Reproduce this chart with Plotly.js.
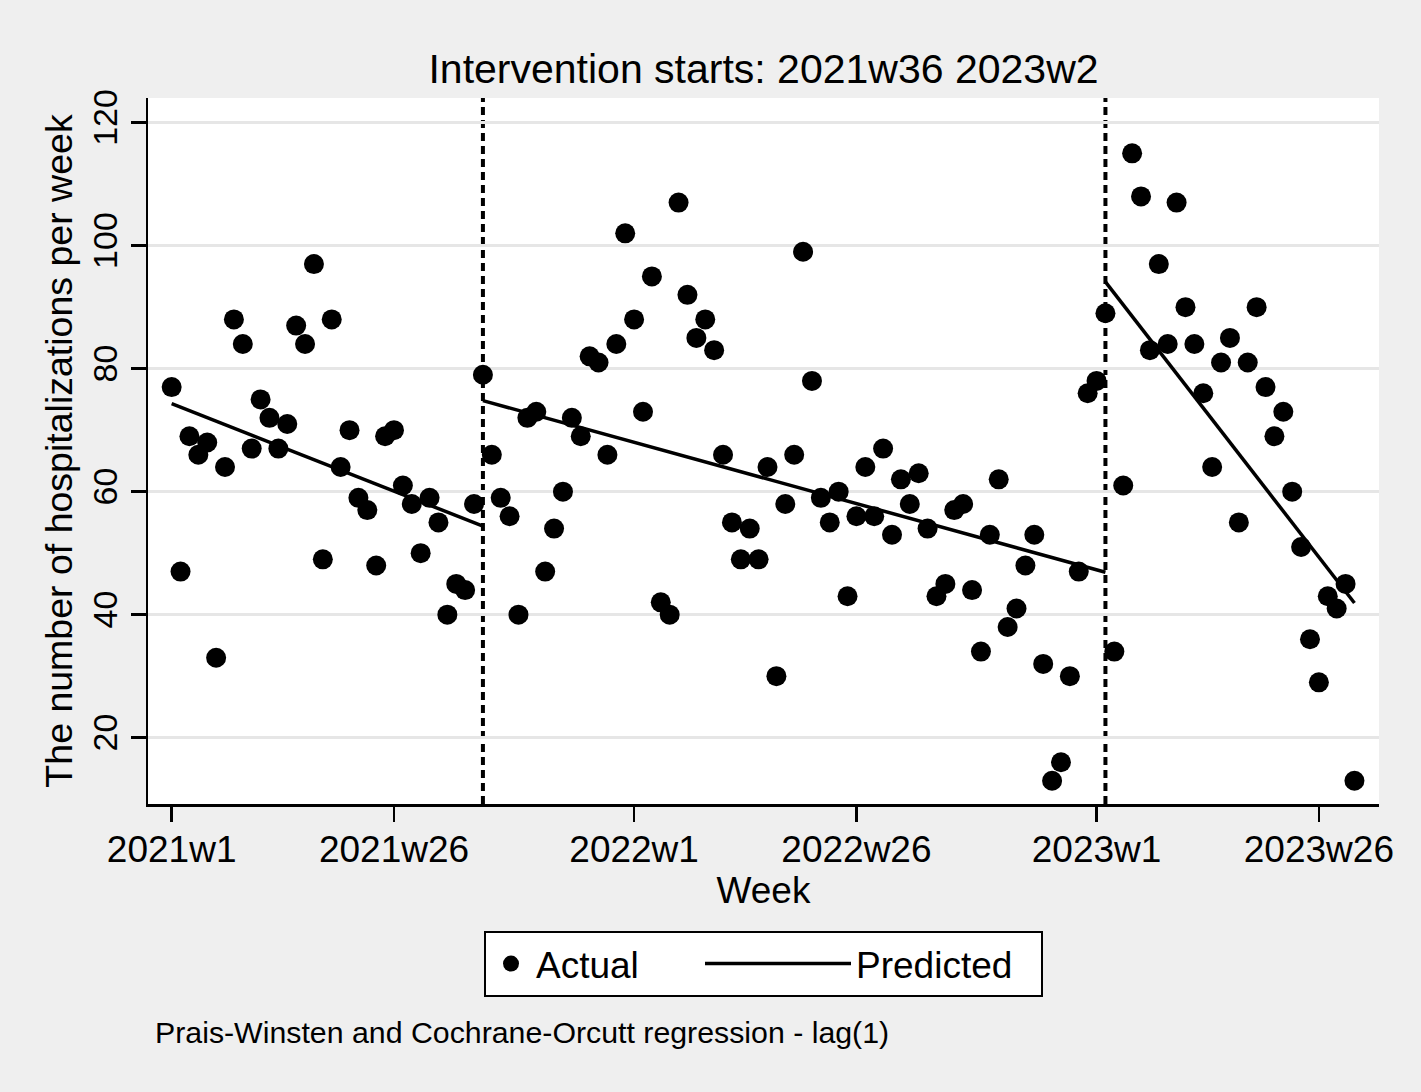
<!DOCTYPE html>
<html>
<head>
<meta charset="utf-8">
<script src="https://cdn.plot.ly/plotly-3.0.1.min.js"></script>
<style>
  html, body { margin: 0; padding: 0; background: #efefef; }
  #chart { width: 1421px; height: 1092px; }
</style>
</head>
<body>
<div id="chart"></div>
<script>
// ---------------- data ----------------
const startWeek = '2021w1';

// weekly hospitalizations, one value per week from 2021w1
const actual = [
  77,47,69,66,68,33,64,88,84,67,75,72,67,71,87,84,97,49,88,64,
  70,59,57,48,69,70,61,58,50,59,55,40,45,44,58,
  79,66,59,56,40,72,73,47,54,60,72,69,82,81,66,84,102,88,73,95,
  42,40,107,92,85,88,83,66,55,49,54,49,64,30,58,66,99,78,59,55,
  60,43,56,64,56,67,53,62,58,63,54,43,45,57,58,44,34,53,62,38,
  41,48,53,32,13,16,30,47,76,78,
  89,34,61,115,108,83,97,84,107,90,84,76,64,81,85,55,81,90,77,69,
  73,60,51,36,29,43,41,45,13
];

// predicted (segmented) trend, end points of each segment
const predWeeks = ['2021w1', '2021w36', null, '2021w36', '2023w2', null, '2023w2', '2023w30'];
const predicted = [74.3, 54.4, null, 74.8, 46.9, null, 94.1, 41.9];

const interventions = ['2021w36', '2023w2'];
const xTickLabels = ['2021w1', '2021w26', '2022w1', '2022w26', '2023w1', '2023w26'];
const yTickVals = [20, 40, 60, 80, 100, 120];

const titleText = 'Intervention starts: ' + interventions.join(' ');
const xTitle = 'Week';
const yTitle = 'The number of hospitalizations per week';
const noteText = 'Prais-Winsten and Cochrane-Orcutt regression - lag(1)';
const seriesNames = ['Actual', 'Predicted'];

// Stata weekly date -> running week number (52 weeks per year)
function weekIndex(label) {
  if (label === null) return null;
  const m = /^(\d{4})w(\d+)$/.exec(label);
  const s = /^(\d{4})w(\d+)$/.exec(startWeek);
  return (parseInt(m[1]) - parseInt(s[1])) * 52 + (parseInt(m[2]) - parseInt(s[2]));
}

// ---------------- figure ----------------
const FONT = 'Liberation Sans, Arial, Helvetica, sans-serif';
const W = 1421, H = 1092;
const M = { l: 148, r: 42, t: 98, b: 288 };
const PW = W - M.l - M.r, PH = H - M.t - M.b;

const traces = [
  {
    type: 'scatter', mode: 'markers', name: seriesNames[0],
    x: actual.map((v, i) => i), y: actual,
    marker: { color: '#000000', size: 20, line: { width: 0 } },
    legend: 'legend', cliponaxis: false
  },
  {
    type: 'scatter', mode: 'lines', name: seriesNames[1],
    x: predWeeks.map(weekIndex), y: predicted,
    line: { color: '#000000', width: 3.5 },
    connectgaps: false,
    legend: 'legend2'
  }
];

const shapes = interventions.map(w => ({
  type: 'line', xref: 'x', yref: 'paper',
  x0: weekIndex(w), x1: weekIndex(w), y0: 0, y1: 1,
  line: { color: '#000000', width: 4, dash: '8px,5px' },
  layer: 'between'
}));

const legendY = (M.t + PH - 931) / PH;

const layout = {
  width: W, height: H,
  paper_bgcolor: '#efefef',
  plot_bgcolor: '#ffffff',
  margin: { l: M.l, r: M.r, t: M.t, b: M.b, pad: 0 },
  font: { family: FONT, color: '#000000', size: 37 },
  title: {
    text: titleText,
    font: { family: FONT, size: 41, color: '#000000' },
    x: 0.5, xref: 'paper', xanchor: 'center',
    y: 1 - 69 / H, yref: 'container', yanchor: 'middle'
  },
  xaxis: {
    range: [-2.66, 135.76],
    tickmode: 'array',
    tickvals: xTickLabels.map(weekIndex),
    ticktext: xTickLabels,
    ticks: 'outside', ticklen: 15, tickwidth: 2.5, tickcolor: '#000000',
    showline: true, linewidth: 2.5, linecolor: '#000000', mirror: false,
    showgrid: false, zeroline: false,
    ticklabelstandoff: -4,
    tickfont: { family: FONT, size: 37, color: '#000000' },
    title: { text: xTitle, font: { family: FONT, size: 37, color: '#000000' }, standoff: 0 },
    fixedrange: true
  },
  yaxis: {
    range: [9.22, 124.0],
    tickmode: 'array',
    tickvals: yTickVals,
    ticktext: yTickVals.map(String),
    ticks: 'outside', ticklen: 15, tickwidth: 2.5, tickcolor: '#000000',
    showline: true, linewidth: 2.5, linecolor: '#000000', mirror: false,
    showgrid: true, gridcolor: '#e6e6e6', gridwidth: 3,
    zeroline: false,
    tickangle: -90,
    tickfont: { family: FONT, size: 34, color: '#000000' },
    title: { text: yTitle, font: { family: FONT, size: 37.5, color: '#000000' }, standoff: 2 },
    fixedrange: true
  },
  showlegend: true,
  legend: {
    orientation: 'h',
    x: (484 - M.l) / PW, xref: 'paper', xanchor: 'left',
    y: legendY, yref: 'paper', yanchor: 'top',
    bgcolor: '#ffffff', bordercolor: '#000000', borderwidth: 2,
    font: { family: FONT, size: 37, color: '#000000' },
    itemwidth: 40,
    entrywidth: 500, entrywidthmode: 'pixels',
    itemclick: false, itemdoubleclick: false
  },
  legend2: {
    orientation: 'h',
    x: (700 - 2 - M.l) / PW, xref: 'paper', xanchor: 'left',
    y: legendY, yref: 'paper', yanchor: 'top',
    bgcolor: 'rgba(0,0,0,0)', bordercolor: 'rgba(0,0,0,0)', borderwidth: 2,
    font: { family: FONT, size: 37, color: '#000000' },
    itemwidth: 146,
    itemclick: false, itemdoubleclick: false
  },
  shapes: shapes,
  annotations: [
    {
      text: noteText, showarrow: false,
      xref: 'paper', yref: 'paper',
      x: (153 - M.l) / PW, xanchor: 'left',
      y: (M.t + PH - 1032) / PH, yanchor: 'middle',
      font: { family: FONT, size: 30.3, color: '#000000' }
    }
  ]
};

Plotly.newPlot('chart', traces, layout, { displayModeBar: false, staticPlot: true });
</script>
</body>
</html>
